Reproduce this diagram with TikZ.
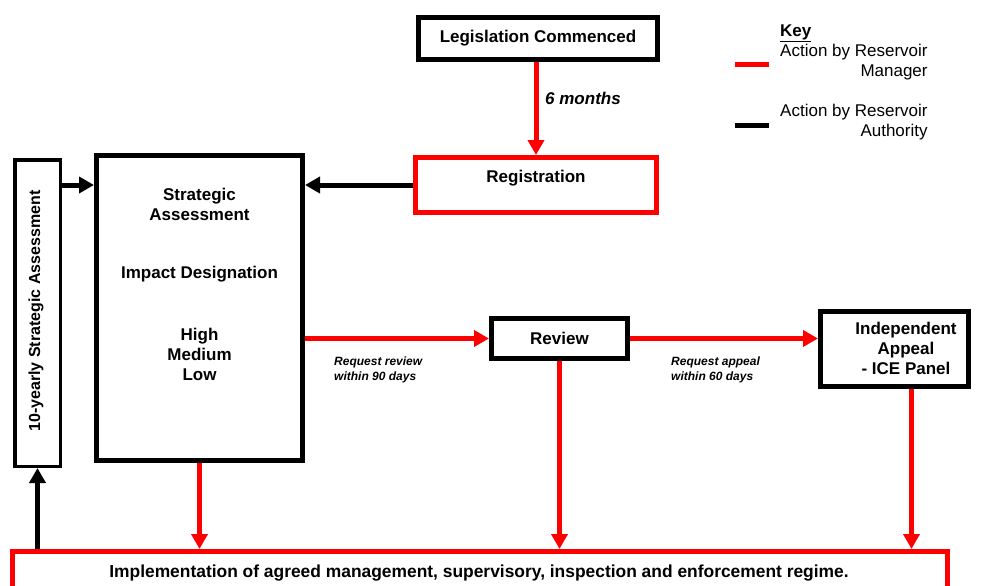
\documentclass[tikz,border=0pt]{standalone}
\usepackage{fontspec}
\setmainfont{Liberation Sans}
\usetikzlibrary{arrows.meta,positioning}
\definecolor{mgr}{RGB}{255,0,0}
\definecolor{auth}{RGB}{0,0,0}

\begin{document}
\begin{tikzpicture}[x=1pt,y=-1pt,
  box/.style={draw=auth,line width=5pt,fill=white,align=center,inner sep=0pt,font=\bfseries\fontsize{17}{20}\selectfont},
  rbox/.style={box,draw=mgr},
  txt/.style={align=center,inner sep=0pt,font=\bfseries\fontsize{17}{20}\selectfont},
  note/.style={align=left,inner sep=0pt,anchor=north west,font=\bfseries\itshape\fontsize{12}{15}\selectfont},
  keytxt/.style={align=right,inner sep=0pt,anchor=west,font=\fontsize{17}{20}\selectfont},
  ar/.style={-{Triangle[length=15pt,width=16pt]},line width=5pt,draw=auth},
  rar/.style={ar,draw=mgr}
]
\useasboundingbox (0,0) rectangle (985,586);
\clip (0,0) rectangle (985,586);
\node[box,minimum width=239pt,minimum height=42pt] (leg) at (538,38.5) {Legislation Commenced};
\node[rbox,minimum width=241pt,minimum height=55pt] (reg) at (536,185) {};
\node[txt] (regt) at (536,178) {Registration};
\node[box,minimum width=206pt,minimum height=305pt] (sa) at (199.5,308) {};
\node[txt] (sat) at (199.5,204) {Strategic\\Assessment};
\node[txt] (imp) at (199.5,274) {Impact Designation};
\node[txt] (hml) at (199.5,354) {High\\Medium\\Low};
\node[box,line width=3.5pt,minimum width=45.5pt,minimum height=306.5pt] (ten) at (37.5,313) {};
\node[txt,rotate=90] (tent) at (36,311) {\fontsize{16}{19}\selectfont 10-yearly Strategic Assessment};
\node[box,minimum width=136pt,minimum height=40pt] (rev) at (559.5,338.5) {Review};
\node[box,minimum width=148pt,minimum height=75pt] (app) at (894.5,349) {};
\node[txt] (appt) at (906,348) {Independent\\Appeal\\- ICE Panel};
\node[rbox,minimum width=935pt,minimum height=60pt] (impl) at (480,581.5) {};
\node[txt] (implt) at (479,573) {\fontsize{17.4}{20}\selectfont Implementation of agreed management, supervisory, inspection and enforcement regime.};

\node[inner sep=0pt,anchor=west,font=\bfseries\fontsize{17}{20}\selectfont] (key) at (780,33) {\underline{Key}};
\node[keytxt] (kmgr) at (780,62) {Action by Reservoir\\Manager};
\node[keytxt] (kauth) at (780,122) {Action by Reservoir\\Authority};
\coordinate (km1) at (735,65);
\coordinate (km2) at (769,65);
\coordinate (ka1) at (735,125);
\coordinate (ka2) at (769,125);
\draw[line width=5pt,mgr] (km1) -- (km2);
\draw[line width=5pt,auth] (ka1) -- (ka2);

\draw[rar] (reg.north |- leg.south) -- (reg.north);
\node[anchor=west,inner sep=0pt,font=\bfseries\itshape\fontsize{17}{20}\selectfont] (six) at (545,98) {6 months};
\draw[ar] (reg.west) -- (sa.east |- reg.west);
\draw[ar] (ten.east |- reg.west) -- (sa.west |- reg.west);
\draw[rar] (sa.east |- rev.west) -- (rev.west);
\node[note] (n90) at (334,357) {Request review\\within 90 days};
\draw[rar] (rev.east) -- (app.west |- rev.east);
\node[note] (n60) at (671,357) {Request appeal\\within 60 days};
\draw[rar] (sa.south) -- (sa.south |- impl.north);
\draw[rar] (rev.south) -- (rev.south |- impl.north);
\draw[rar] ([xshift=17pt]app.south) -- ([xshift=17pt]app.south |- impl.north);
\draw[ar] (impl.north -| ten.south) -- (ten.south);
\end{tikzpicture}
\end{document}
